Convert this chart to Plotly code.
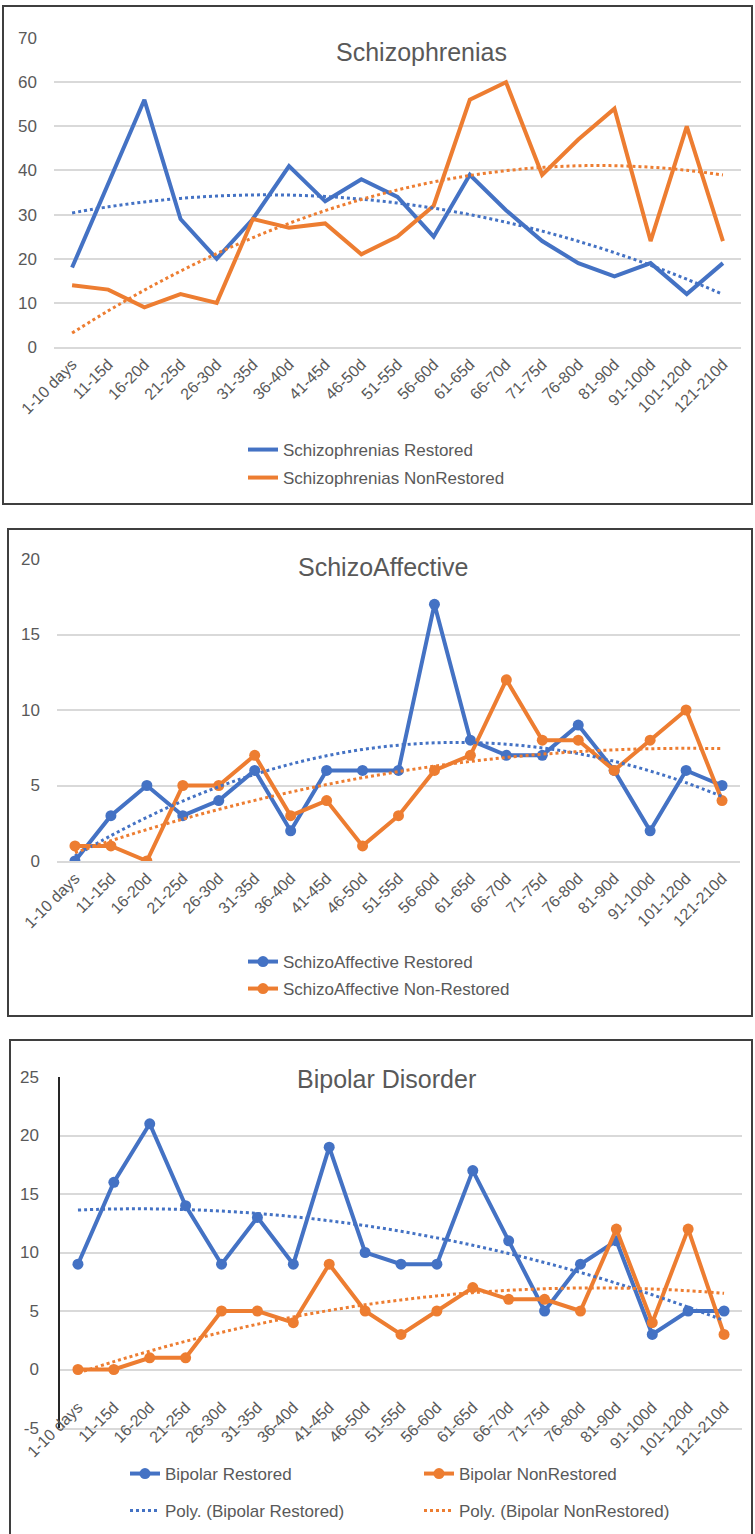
import numpy as np
import plotly.graph_objects as go

categories = ["1-10 days", "11-15d", "16-20d", "21-25d", "26-30d", "31-35d", "36-40d",
              "41-45d", "46-50d", "51-55d", "56-60d", "61-65d", "66-70d", "71-75d",
              "76-80d", "81-90d", "91-100d", "101-120d", "121-210d"]

schizo_restored = [18, 37, 56, 29, 20, 29, 41, 33, 38, 34, 25, 39, 31, 24, 19, 16, 19, 12, 19]
schizo_nonrestored = [14, 13, 9, 12, 10, 29, 27, 28, 21, 25, 32, 56, 60, 39, 47, 54, 24, 50, 24]

affective_restored = [0, 3, 5, 3, 4, 6, 2, 6, 6, 6, 17, 8, 7, 7, 9, 6, 2, 6, 5]
affective_nonrestored = [1, 1, 0, 5, 5, 7, 3, 4, 1, 3, 6, 7, 12, 8, 8, 6, 8, 10, 4]

bipolar_restored = [9, 16, 21, 14, 9, 13, 9, 19, 10, 9, 9, 17, 11, 5, 9, 11, 3, 5, 5]
bipolar_nonrestored = [0, 0, 1, 1, 5, 5, 4, 9, 5, 3, 5, 7, 6, 6, 5, 12, 4, 12, 3]

bipolar_ticks = [-5, 0, 5, 10, 15, 20, 25]
bipolar_ticklabels = ["-5", "0", "5", "10", "15", "20", "25"]

BLUE = "#4472C4"
ORANGE = "#ED7D31"
GRID = "#D9D9D9"
TEXT = "#595959"
FONT = "Liberation Sans, Arial, sans-serif"
W, H = 755, 1534

xpos = np.arange(1, len(categories) + 1)


def poly2(y):
    c = np.polyfit(xpos, np.asarray(y, float), 2)
    return np.polyval(c, xpos)


def px_x(v):
    return v / W


def px_y(v):
    return 1 - v / H


fig = go.Figure()


def add_panel(idx, restored, nonrestored, names, markers, legends, trend_names=None):
    xa = "x" if idx == 1 else f"x{idx}"
    ya = "y" if idx == 1 else f"y{idx}"
    mode = "lines+markers" if markers else "lines"
    mk = dict(size=11)
    fig.add_trace(go.Scatter(x=xpos, y=restored, mode=mode, name=names[0],
                             line=dict(color=BLUE, width=4), marker=dict(color=BLUE, **mk),
                             xaxis=xa, yaxis=ya, legend=legends[0]))
    fig.add_trace(go.Scatter(x=xpos, y=nonrestored, mode=mode, name=names[1],
                             line=dict(color=ORANGE, width=4), marker=dict(color=ORANGE, **mk),
                             xaxis=xa, yaxis=ya, legend=legends[1]))
    show_tr = trend_names is not None
    fig.add_trace(go.Scatter(x=xpos, y=poly2(restored), mode="lines",
                             name=trend_names[0] if show_tr else "trend",
                             line=dict(color=BLUE, width=3, dash="dot", shape="spline"),
                             xaxis=xa, yaxis=ya, showlegend=show_tr,
                             legend=legends[2] if show_tr else None))
    fig.add_trace(go.Scatter(x=xpos, y=poly2(nonrestored), mode="lines",
                             name=trend_names[1] if show_tr else "trend",
                             line=dict(color=ORANGE, width=3, dash="dot", shape="spline"),
                             xaxis=xa, yaxis=ya, showlegend=show_tr,
                             legend=legends[3] if show_tr else None))


add_panel(1, schizo_restored, schizo_nonrestored,
          ["Schizophrenias Restored", "Schizophrenias NonRestored"], False,
          ["legend", "legend2"])
add_panel(2, affective_restored, affective_nonrestored,
          ["SchizoAffective Restored", "SchizoAffective Non-Restored"], True,
          ["legend3", "legend4"])
add_panel(3, bipolar_restored, bipolar_nonrestored,
          ["Bipolar Restored", "Bipolar NonRestored"], True,
          ["legend5", "legend5", "legend6", "legend6"],
          ["Poly. (Bipolar Restored)", "Poly. (Bipolar NonRestored)"])

xcommon = dict(range=[0.5, len(categories) + 0.5], tickmode="array", tickvals=xpos,
               ticktext=categories, tickangle=-45, showgrid=False, zeroline=False,
               ticks="", tickfont=dict(family=FONT, size=16, color=TEXT),
               showline=True, linecolor=GRID, linewidth=1.5, automargin=False)
ycommon = dict(showgrid=True, gridcolor=GRID, gridwidth=1.5, zeroline=False, ticks="",
               tickfont=dict(family=FONT, size=17, color=TEXT), automargin=False,
               ticklabelstandoff=16)

fig.update_layout(
    xaxis=dict(domain=[px_x(54), px_x(741)], anchor="y", **xcommon),
    yaxis=dict(domain=[px_y(347), px_y(38)], range=[0, 70], dtick=10, anchor="x", **ycommon),
    xaxis2=dict(domain=[px_x(57), px_x(740)], anchor="y2", **xcommon),
    yaxis2=dict(domain=[px_y(861), px_y(559)], range=[0, 20], dtick=5, anchor="x2", **ycommon),
    xaxis3=dict(domain=[px_x(60), px_x(742)], anchor="y3", ticklabelstandoff=-38, **xcommon),
    yaxis3=dict(domain=[px_y(1428), px_y(1077)], range=[-5, 25], anchor="x3",
                tickmode="array", tickvals=bipolar_ticks, ticktext=bipolar_ticklabels,
                showline=True, linecolor="#262626", linewidth=1.5, **ycommon),
)

leg_base = dict(orientation="h", xanchor="left", yanchor="middle", bgcolor="rgba(0,0,0,0)",
                font=dict(family=FONT, size=17, color=TEXT), itemwidth=30)
fig.update_layout(
    legend=dict(x=px_x(243), y=px_y(450), **leg_base),
    legend2=dict(x=px_x(243), y=px_y(478), **leg_base),
    legend3=dict(x=px_x(243), y=px_y(962), **leg_base),
    legend4=dict(x=px_x(243), y=px_y(989), **leg_base),
    legend5=dict(x=px_x(125), y=px_y(1474), entrywidth=249, entrywidthmode="pixels", **leg_base),
    legend6=dict(x=px_x(125), y=px_y(1511), entrywidth=249, entrywidthmode="pixels", **leg_base),
)

titles = [("Schizophrenias", 421, 52), ("SchizoAffective", 383, 567), ("Bipolar Disorder", 386, 1079)]
fig.update_layout(annotations=[
    dict(text=t, x=px_x(x), y=px_y(y), xref="paper", yref="paper", showarrow=False,
         xanchor="center", yanchor="middle", font=dict(family=FONT, size=25, color=TEXT))
    for t, x, y in titles
])

boxes = [(3, 6, 752, 504), (8, 529, 752, 1016), (10, 1040, 752, 1545)]
fig.update_layout(shapes=[
    dict(type="rect", xref="paper", yref="paper", x0=px_x(a), y0=px_y(d), x1=px_x(c), y1=px_y(b),
         line=dict(color="#3F3F3F", width=2), fillcolor="rgba(0,0,0,0)", layer="below")
    for a, b, c, d in boxes
])

fig.update_layout(width=W, height=H, margin=dict(l=0, r=0, t=0, b=0, autoexpand=False),
                  paper_bgcolor="white", plot_bgcolor="white", showlegend=True)

fig.write_html("out.html", config={"displayModeBar": False},
               post_script="document.body.style.margin='0px';")
